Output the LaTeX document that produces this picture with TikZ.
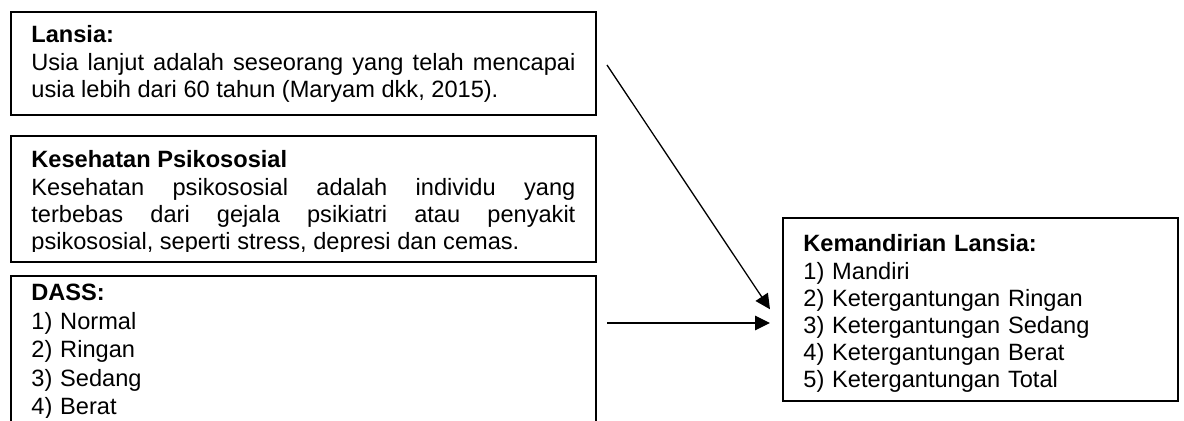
\documentclass[tikz,border=0pt]{standalone}
\usepackage{fontspec}
\setmainfont{Liberation Sans}
\usetikzlibrary{arrows.meta}
\tolerance=9999
\hbadness=10000

\tikzset{
  kotak/.style={draw, line width=0.8pt, inner sep=0pt, anchor=north west},
  isi/.style={anchor=base west, inner sep=0pt, text width=272pt, align=justify,
    font=\fontsize{11.8}{13.6}\selectfont},
  daftar/.style={isi, align=left},
  panah/.style={-{Triangle[length=7.5pt,width=7.3pt]}, line width=0.65pt}
}

\begin{document}
\begin{tikzpicture}[x=0.5pt, y=-0.5pt]
\clip (0,0) rectangle (1184,421);

% kotak kiri
\node[kotak, minimum width=292.5pt, minimum height=51.5pt] (lansia) at (10,11) {};
\node[kotak, minimum width=292.5pt, minimum height=63pt] (psiko) at (10,135) {};
\node[kotak, minimum width=292.5pt, minimum height=110pt] (dass) at (10,275) {};

% kotak kanan
\node[kotak, minimum width=197.5pt, minimum height=91.5pt] (mandiri) at (782,217) {};

% isi teks
\node[isi] (tlansia) at (31,43) {\textbf{Lansia:}\\Usia lanjut adalah seseorang yang telah mencapai\linebreak usia lebih dari 60 tahun (Maryam dkk, 2015).};
\begin{scope}
  \clip (10,135) rectangle (595,252);
  \node[isi] (tpsiko) at (31,168) {\textbf{Kesehatan Psikososial}\\Kesehatan psikososial adalah individu yang\linebreak terbebas dari gejala psikiatri atau penyakit\linebreak psikososial, seperti stress, depresi dan cemas.};
\end{scope}
\begin{scope}
  \clip (10,275) rectangle (595,418);
  \node[daftar, font=\fontsize{11.8}{14.25}\selectfont] (tdass) at (31,301) {\textbf{DASS:}\\1) Normal\\2) Ringan\\3) Sedang\\4) Berat};
\end{scope}
\node[daftar, text width=180pt] (tmandiri) at (803,252) {\textbf{Kemandirian Lansia:}\\1) Mandiri\\2) Ketergantungan Ringan\\3) Ketergantungan Sedang\\4) Ketergantungan Berat\\5) Ketergantungan Total};

% panah ke kemandirian
\coordinate (awal1) at (607,65);
\coordinate (awal2) at (607,323);
\coordinate (ujung) at ([xshift=-6pt]mandiri.west);
\draw[panah] (awal1) -- (ujung);
\draw[panah] (awal2) -- (awal2 -| ujung);

\end{tikzpicture}
\end{document}
